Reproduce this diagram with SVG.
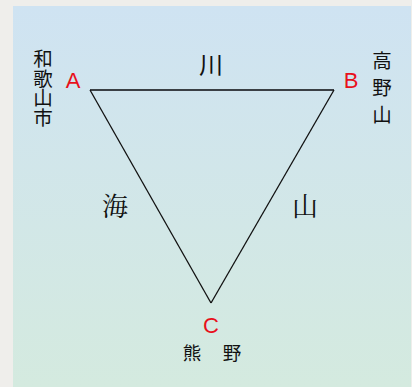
<svg xmlns="http://www.w3.org/2000/svg" width="412" height="387" viewBox="0 0 412 387">
<defs>
<linearGradient id="bg" x1="0" y1="0" x2="0" y2="1">
<stop offset="0" stop-color="#cfe3f2"/>
<stop offset="1" stop-color="#d4eadf"/>
</linearGradient>
<style>
.lbl{font-family:"Liberation Sans","Noto Sans",sans-serif;font-size:22px;fill:#e8101c;text-anchor:middle}
.jp{font-family:"Noto Sans CJK JP","Noto Sans CJK SC",sans-serif;font-size:18.5px;fill:#111;text-anchor:middle}
.vt{font-family:"Noto Sans CJK JP","Noto Sans CJK SC",sans-serif;font-size:19.5px;fill:#111;writing-mode:vertical-rl;text-anchor:start}
.edge{font-family:"Noto Serif CJK JP","Noto Serif CJK SC","Noto Sans CJK JP",serif;font-size:26px;fill:#111;text-anchor:middle}
.river{font-family:"Noto Sans CJK JP","Noto Sans CJK SC",sans-serif;font-size:24px;fill:#111;text-anchor:middle}
</style>
</defs>
<rect x="0" y="0" width="412" height="387" fill="#efeeeb"/>
<rect x="13" y="6" width="398" height="381" fill="url(#bg)"/>
<g id="connectors">
<line x1="90" y1="90" x2="334" y2="90" stroke="#3a3f44" stroke-width="2.2"/>
<line x1="90" y1="90" x2="211" y2="303" stroke="#111" stroke-width="1.3"/>
<line x1="334" y1="90" x2="211" y2="303" stroke="#111" stroke-width="1.3"/>
<text class="river" x="211" y="74">川</text>
<text class="edge" x="115" y="216">海</text>
<text class="edge" x="305" y="216">山</text>
</g>
<g id="nodeA">
<text class="lbl" x="73" y="88">A</text>
<text class="vt" x="43" y="49">和歌山市</text>
</g>
<g id="nodeB">
<text class="lbl" x="351" y="88">B</text>
<text class="vt" x="382" y="51" letter-spacing="7.5">高野山</text>
</g>
<g id="nodeC">
<text class="lbl" x="211" y="333">C</text>
<text class="jp" x="192" y="360">熊</text>
<text class="jp" x="232" y="360">野</text>
</g>
</svg>
